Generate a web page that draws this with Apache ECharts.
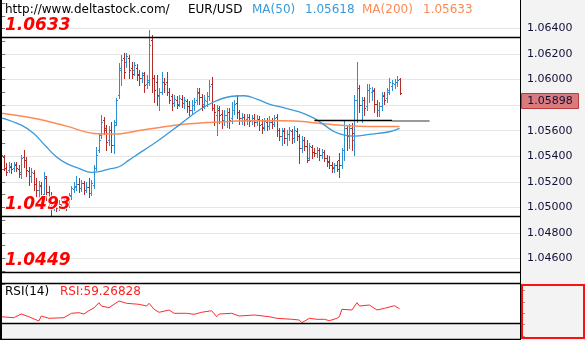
<!DOCTYPE html>
<html><head><meta charset="utf-8">
<script src="https://cdn.jsdelivr.net/npm/echarts/dist/echarts.min.js"></script>
<style>html,body{margin:0;padding:0;background:#fff}#c{width:585px;height:340px}</style>
</head><body><div id="c"></div>
<script>
const site = 'http://www.deltastock.com/';
const symbolName = 'EUR/USD';
// OHLC bars, one per period: [open, close, low, high]
const bars = [
[1.05331,1.05409,1.05276,1.05433],[1.05394,1.05308,1.05292,1.05409],[1.05308,1.05276,1.05253,1.05347],[1.05292,1.05323,1.05276,1.05355],
[1.05315,1.05300,1.05268,1.05347],[1.05308,1.05339,1.05284,1.05355],[1.05331,1.05308,1.05284,1.05355],[1.05300,1.05261,1.05237,1.05331],
[1.05276,1.05386,1.05229,1.05409],[1.05394,1.05370,1.05315,1.05448],[1.05370,1.05292,1.05245,1.05394],[1.05284,1.05245,1.05174,1.05315],
[1.05245,1.05276,1.05198,1.05308],[1.05268,1.05182,1.05135,1.05292],[1.05182,1.05135,1.05088,1.05229],[1.05135,1.05174,1.05073,1.05206],
[1.05167,1.05096,1.05026,1.05198],[1.05104,1.05245,1.05057,1.05276],[1.05229,1.05120,1.05057,1.05245],[1.05120,1.05057,1.05018,1.05167],
[1.05088,1.05010,1.04932,1.05120],[1.05010,1.05033,1.04979,1.05073],[1.05033,1.04994,1.04971,1.05065],[1.05002,1.05026,1.04979,1.05057],
[1.05026,1.05010,1.04987,1.05073],[1.05010,1.05033,1.04987,1.05065],[1.05026,1.05010,1.04979,1.05065],[1.05018,1.05096,1.05002,1.05112],
[1.05088,1.05151,1.05065,1.05167],[1.05143,1.05167,1.05120,1.05198],[1.05159,1.05182,1.05135,1.05245],[1.05182,1.05151,1.05120,1.05229],
[1.05151,1.05190,1.05127,1.05214],[1.05190,1.05135,1.05104,1.05206],[1.05135,1.05159,1.05120,1.05198],[1.05159,1.05112,1.05080,1.05229],
[1.05112,1.05190,1.05096,1.05214],[1.05174,1.05308,1.05151,1.05331],[1.05308,1.05409,1.05292,1.05472],[1.05448,1.05527,1.05433,1.05582],
[1.05566,1.05668,1.05542,1.05723],[1.05683,1.05605,1.05574,1.05707],[1.05621,1.05511,1.05448,1.05644],[1.05527,1.05605,1.05488,1.05636],
[1.05605,1.05488,1.05433,1.05668],[1.05488,1.05644,1.05425,1.05683],[1.05668,1.05840,1.05644,1.05856],[1.05879,1.06075,1.05856,1.06130],
[1.06091,1.06153,1.05957,1.06192],[1.06169,1.06059,1.06012,1.06208],[1.06138,1.06185,1.06098,1.06208],[1.06169,1.06075,1.06012,1.06192],
[1.06091,1.06044,1.06012,1.06138],[1.06075,1.06114,1.06036,1.06138],[1.06091,1.06036,1.05997,1.06122],[1.06044,1.06012,1.05957,1.06075],
[1.06012,1.06051,1.05981,1.06059],[1.06036,1.05957,1.05903,1.06059],[1.05965,1.05997,1.05934,1.06036],[1.05981,1.06271,1.05957,1.06388],
[1.06310,1.06012,1.05903,1.06349],[1.06012,1.05918,1.05824,1.06036],[1.05981,1.05879,1.05801,1.06036],[1.05871,1.05903,1.05762,1.05934],
[1.05903,1.05981,1.05887,1.06059],[1.05981,1.05965,1.05903,1.06012],[1.05981,1.05903,1.05879,1.06059],[1.05903,1.05840,1.05817,1.05934],
[1.05871,1.05817,1.05762,1.05887],[1.05817,1.05848,1.05793,1.05879],[1.05840,1.05801,1.05777,1.05871],[1.05809,1.05856,1.05793,1.05879],
[1.05848,1.05817,1.05785,1.05879],[1.05817,1.05840,1.05777,1.05863],[1.05832,1.05793,1.05746,1.05848],[1.05793,1.05762,1.05723,1.05832],
[1.05762,1.05801,1.05738,1.05840],[1.05801,1.05824,1.05762,1.05856],[1.05840,1.05895,1.05809,1.05934],[1.05903,1.05863,1.05809,1.05934],
[1.05863,1.05793,1.05762,1.05887],[1.05809,1.05840,1.05777,1.05879],[1.05832,1.05871,1.05793,1.05903],[1.05871,1.05950,1.05840,1.05997],
[1.05965,1.05777,1.05762,1.06020],[1.05777,1.05746,1.05644,1.05809],[1.05723,1.05777,1.05566,1.05801],[1.05762,1.05723,1.05660,1.05793],
[1.05730,1.05683,1.05621,1.05762],[1.05683,1.05723,1.05644,1.05762],[1.05723,1.05746,1.05629,1.05777],[1.05746,1.05683,1.05621,1.05777],
[1.05699,1.05762,1.05660,1.05824],[1.05762,1.05809,1.05730,1.05840],[1.05817,1.05746,1.05699,1.05879],[1.05746,1.05699,1.05652,1.05762],
[1.05699,1.05707,1.05652,1.05738],[1.05707,1.05683,1.05644,1.05730],[1.05691,1.05707,1.05652,1.05730],[1.05707,1.05676,1.05636,1.05730],
[1.05683,1.05699,1.05652,1.05723],[1.05699,1.05668,1.05636,1.05730],[1.05668,1.05691,1.05644,1.05723],[1.05691,1.05644,1.05605,1.05715],
[1.05652,1.05621,1.05582,1.05691],[1.05629,1.05676,1.05605,1.05699],[1.05668,1.05636,1.05605,1.05699],[1.05636,1.05668,1.05613,1.05715],
[1.05668,1.05652,1.05621,1.05699],[1.05652,1.05699,1.05636,1.05723],[1.05707,1.05605,1.05558,1.05730],[1.05605,1.05558,1.05527,1.05621],
[1.05558,1.05605,1.05488,1.05621],[1.05597,1.05542,1.05503,1.05621],[1.05542,1.05574,1.05488,1.05605],[1.05574,1.05605,1.05527,1.05629],
[1.05597,1.05542,1.05503,1.05613],[1.05542,1.05605,1.05511,1.05636],[1.05597,1.05558,1.05527,1.05621],[1.05558,1.05464,1.05347,1.05574],
[1.05464,1.05527,1.05433,1.05558],[1.05527,1.05480,1.05448,1.05550],[1.05480,1.05370,1.05355,1.05527],[1.05386,1.05480,1.05370,1.05503],
[1.05472,1.05433,1.05386,1.05488],[1.05433,1.05425,1.05402,1.05464],[1.05425,1.05448,1.05394,1.05472],[1.05448,1.05409,1.05370,1.05464],
[1.05409,1.05433,1.05386,1.05456],[1.05433,1.05386,1.05362,1.05448],[1.05386,1.05355,1.05323,1.05409],[1.05362,1.05331,1.05308,1.05402],
[1.05331,1.05308,1.05276,1.05355],[1.05315,1.05331,1.05276,1.05347],[1.05331,1.05300,1.05284,1.05362],[1.05370,1.05331,1.05237,1.05425],
[1.05331,1.05448,1.05308,1.05464],[1.05448,1.05621,1.05370,1.05683],[1.05621,1.05558,1.05448,1.05636],[1.05566,1.05621,1.05464,1.05652],
[1.05621,1.05582,1.05448,1.05660],[1.05527,1.05840,1.05409,1.05879],[1.05840,1.05934,1.05668,1.06138],[1.05934,1.05801,1.05746,1.05957],
[1.05801,1.05840,1.05668,1.05863],[1.05840,1.05777,1.05723,1.05863],[1.05793,1.05918,1.05762,1.05965],[1.05918,1.05934,1.05824,1.05965],
[1.05903,1.05910,1.05840,1.05942],[1.05918,1.05809,1.05746,1.05934],[1.05809,1.05762,1.05715,1.05840],[1.05762,1.05793,1.05715,1.05824],
[1.05793,1.05879,1.05762,1.05903],[1.05871,1.05840,1.05809,1.05903],[1.05856,1.05903,1.05824,1.05934],[1.05918,1.05981,1.05887,1.06012],
[1.05950,1.05973,1.05918,1.05997],[1.05965,1.05981,1.05934,1.06004],[1.05981,1.05997,1.05950,1.06028],[1.06004,1.05898,1.05890,1.06012]
];
// moving averages read at bar positions: [barIndex, value]
const ma50 = [[0,1.05701],[8,1.05644],[13,1.05579],[18,1.05474],[22,1.05396],[26,1.05344],[31,1.05305],[36,1.05274],[39,1.05279],
[43,1.05300],[47,1.05318],[51,1.05370],[55,1.05423],[59,1.05474],[63,1.05527],[71,1.05644],[79,1.05762],[85,1.05827],[91,1.05866],
[97,1.05874],[102,1.05848],[107,1.05809],[111,1.05788],[119,1.05748],[125,1.05697],[129,1.05644],[133,1.05592],[137,1.05566],
[141,1.05558],[147,1.05571],[155,1.05592],[159,1.05618]];
const ma200 = [[0,1.05736],[13,1.05697],[26,1.05636],[37,1.05579],[45,1.05574],[55,1.05601],[65,1.05631],[73,1.05650],[83,1.05665],
[91,1.05673],[101,1.05679],[109,1.05678],[117,1.05676],[130,1.05652],[143,1.05636],[159,1.05633]];
// RSI(14) read at bar positions: [barIndex, value]
const rsi = [[0,51.3],[5,50.3],[8,54.0],[11,51.3],[15,47.0],[16,52.0],[19,49.7],[25,50.3],[28,54.7],[31,55.3],[33,54.0],[35,57.3],
[37,60.0],[39,65.3],[40,62.0],[43,60.3],[47,67.0],[50,64.7],[55,63.7],[58,62.0],[59,64.7],[61,58.7],[63,55.7],[67,58.0],[69,54.7],
[74,54.7],[77,53.7],[80,55.7],[84,57.3],[86,51.3],[87,54.0],[92,54.7],[95,52.0],[101,53.0],[107,51.3],[110,49.7],[116,48.7],
[119,48.0],[120,45.3],[123,49.7],[126,48.7],[129,48.7],[131,47.3],[134,49.7],[135,51.3],[136,58.7],[140,58.0],[142,65.3],[143,62.0],
[147,63.0],[150,58.0],[153,59.7],[157,62.3],[159,59.26828]];
const levels = [1.0633, 1.0493, 1.0449];
const supportLine = {value: 1.05681, from: 125, to: 156, extendTo: 171};
const priceAxis = {min: 1.044, max: 1.066, step: 0.002};
const slots = 208;

const FONT = 'DejaVu Sans';
const UP = '#2e90d4', DOWN = '#b32b2b', BLUE = '#3a9ad9', ORANGE = '#ff8a55';
const chart = echarts.init(document.getElementById('c'), null, {renderer: 'canvas'});
const lastClose = bars[bars.length - 1][1];

function renderOHLC(params, api) {
  const i = api.value(0);
  const o = api.coord([i, api.value(1)]);
  const c = api.coord([i, api.value(2)]);
  const l = api.coord([i, api.value(3)]);
  const h = api.coord([i, api.value(4)]);
  const x = Math.round(o[0]) + 0.5;
  const color = api.value(2) >= api.value(1) ? UP : DOWN;
  const yo = Math.round(o[1]) + 0.5, yc = Math.round(c[1]) + 0.5;
  const st = {stroke: color, lineWidth: 1};
  return {type: 'group', children: [
    {type: 'line', shape: {x1: x, y1: Math.round(h[1]), x2: x, y2: Math.round(l[1]) + 1}, style: st},
    {type: 'line', shape: {x1: x - 1.5, y1: yo, x2: x, y2: yo}, style: st},
    {type: 'line', shape: {x1: x, y1: yc, x2: x + 1.5, y2: yc}, style: st}
  ]};
}

const levelLabel = {show: true, position: 'insideStartTop', distance: [5, 3],
  formatter: p => Number(p.value).toFixed(4), color: '#ff0000', fontFamily: FONT, fontWeight: 'bold',
  fontStyle: 'italic', fontSize: 17, textBorderColor: '#fff', textBorderWidth: 2};

chart.setOption({
  animation: false,
  backgroundColor: '#fff',
  grid: [
    {left: 0, top: 3, width: 521, height: 281},
    {left: 0, top: 283, width: 521, height: 40}
  ],
  xAxis: [
    {type: 'value', gridIndex: 0, min: -0.5, max: slots - 0.5, show: false},
    {type: 'value', gridIndex: 1, min: -0.5, max: slots - 0.5, show: false}
  ],
  yAxis: [
    {type: 'value', gridIndex: 0, position: 'right', min: priceAxis.min, max: priceAxis.max, interval: priceAxis.step,
     axisLine: {show: true, lineStyle: {color: '#000'}},
     axisTick: {show: true, length: 4, lineStyle: {color: '#777'}},
     minorTick: {show: true, splitNumber: 2, length: 4, lineStyle: {color: '#777'}},
     splitLine: {show: true, showMinLine: false, showMaxLine: false, lineStyle: {color: '#e6e6e6', width: 1}},
     axisLabel: {showMinLabel: false, showMaxLabel: false, margin: 6, color: '#10103a', fontFamily: FONT, fontSize: 11,
       formatter: v => (v < lastClose && v > lastClose - 0.0015) ? '' : v.toFixed(5)}},
    {type: 'value', gridIndex: 1, min: 45, max: 85, show: false}
  ],
  series: [
    {type: 'custom', xAxisIndex: 0, yAxisIndex: 0, z: 2, renderItem: renderOHLC,
     encode: {x: 0, y: [1, 2, 3, 4]}, data: bars.map((b, i) => [i, b[0], b[1], b[2], b[3]])},
    {type: 'line', name: 'MA(200)', xAxisIndex: 0, yAxisIndex: 0, z: 3, data: ma200, smooth: 0.4, symbol: 'none',
     lineStyle: {color: ORANGE, width: 1.5},
     markLine: {symbol: 'none', silent: true, animation: false, precision: 5,
       data: [
         ...levels.map(v => ({yAxis: v, label: levelLabel, lineStyle: {color: '#000', width: 1.3, type: 'solid'}})),
         [{coord: [supportLine.from, supportLine.value], label: {show: false}, lineStyle: {color: '#000', width: 1.3, type: 'solid'}},
          {coord: [supportLine.to, supportLine.value]}],
         [{coord: [supportLine.to, supportLine.value], label: {show: false}, lineStyle: {color: '#9a9a9a', width: 2, type: 'solid'}},
          {coord: [supportLine.extendTo, supportLine.value]}]
       ]}},
    {type: 'line', name: 'MA(50)', xAxisIndex: 0, yAxisIndex: 0, z: 4, data: ma50, smooth: 0.4, symbol: 'none',
     lineStyle: {color: BLUE, width: 1.3}},
    {type: 'line', name: 'RSI', xAxisIndex: 1, yAxisIndex: 1, z: 3, data: rsi, symbol: 'none',
     lineStyle: {color: '#ff2a2a', width: 1}}
  ]
});

const py = chart.convertToPixel({yAxisIndex: 0}, lastClose);
const hdr = (text, x, color) => ({type: 'text', z: 100, x: x, y: 10,
  style: {text: text, fill: color, font: '12px "DejaVu Sans"', textVerticalAlign: 'middle'}});
const line = (x1, y1, x2, y2, color, w) => ({type: 'line', z: 90, shape: {x1, y1, x2, y2}, style: {stroke: color, lineWidth: w}});
chart.setOption({graphic: [
  {type: 'rect', z: -10, shape: {x: 521, y: 0, width: 64, height: 340}, style: {fill: '#f3f3f3'}},
  {type: 'rect', z: -10, shape: {x: 0, y: 324, width: 521, height: 16}, style: {fill: '#f3f3f3'}},
  line(1, 0, 1, 340, '#000', 2),
  line(520.5, 0, 520.5, 340, '#000', 1),
  line(0, 283.5, 521, 283.5, '#000', 1.3),
  line(0, 323.5, 521, 323.5, '#000', 1.3),
  line(0, 339.5, 521, 339.5, '#000', 1.3),
  {type: 'rect', z: 95, shape: {x: 522, y: 285, width: 62, height: 53}, style: {fill: 'none', stroke: '#ff1010', lineWidth: 2}},
  ...[290, 302, 313, 324, 336].map(y => line(522, y + 0.5, 525, y + 0.5, '#999', 1)),
  hdr(site, 5, '#000'),
  hdr(symbolName, 188, '#000'),
  hdr('MA(50)', 252, BLUE),
  hdr(ma50[ma50.length - 1][1].toFixed(5), 305, BLUE),
  hdr('MA(200)', 362, ORANGE),
  hdr(ma200[ma200.length - 1][1].toFixed(5), 423, ORANGE),
  {type: 'text', z: 100, x: 5, y: 292, style: {text: 'RSI(14)', fill: '#000', font: '12px "DejaVu Sans"', textVerticalAlign: 'middle'}},
  {type: 'text', z: 100, x: 60, y: 292, style: {text: 'RSI:' + rsi[rsi.length - 1][1].toFixed(5), fill: '#ff2020', font: '12px "DejaVu Sans"', textVerticalAlign: 'middle'}},
  {type: 'rect', z: 100, shape: {x: 521.5, y: Math.round(py) + 0.5, width: 57, height: 15}, style: {fill: '#d97a7c', stroke: '#b83a3a', lineWidth: 1}},
  {type: 'text', z: 101, x: 550, y: Math.round(py) + 8.5, style: {text: lastClose.toFixed(5), fill: '#10103a', font: '11px "DejaVu Sans"', textAlign: 'center', textVerticalAlign: 'middle'}}
]});
</script></body></html>
